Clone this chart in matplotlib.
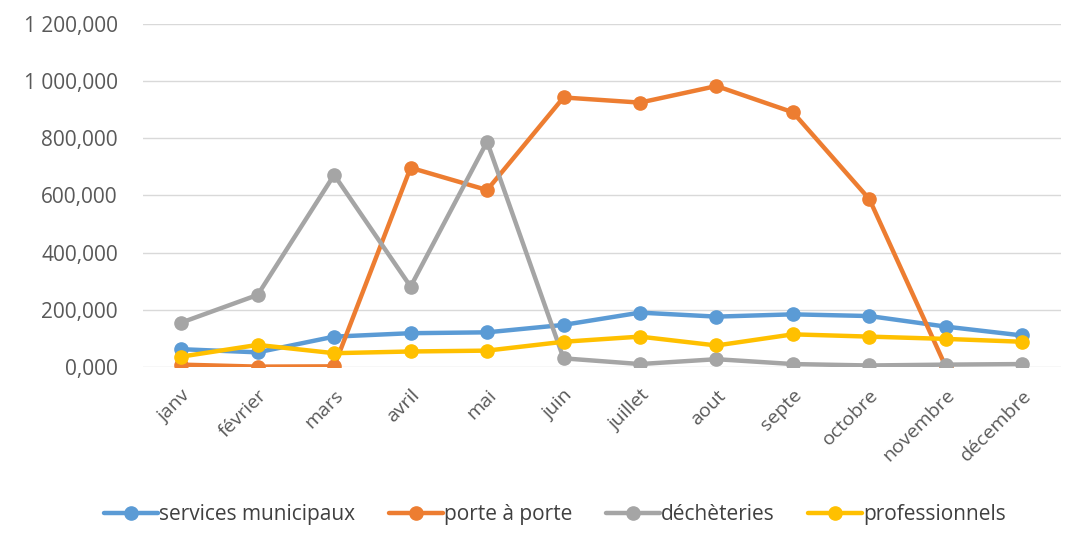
import matplotlib
matplotlib.use("Agg")
import matplotlib.pyplot as plt
import numpy as np
from matplotlib.ticker import FuncFormatter

months = ["janv", "février", "mars", "avril", "mai", "juin", "juillet", "aout",
          "septe", "octobre", "novembre", "décembre"]
services_municipaux = [62, 51, 106, 118, 121, 147, 190, 176, 184, 178, 141, 110]
porte_a_porte = [8, 1, 2, 697, 619, 943, 925, 983, 891, 587, 0, np.nan]
decheteries = [155, 252, 672, 281, 788, 30, 10, 27, 10, 5, 8, 10]
professionnels = [36, 77, 48, 54, 57, 88, 106, 75, 114, 106, 98, 88]

series = [
    ("services municipaux", services_municipaux, "#5B9BD5"),
    ("porte à porte", porte_a_porte, "#ED7D31"),
    ("déchèteries", decheteries, "#A5A5A5"),
    ("professionnels", professionnels, "#FFC000"),
]

plt.rcParams['font.family'] = ['Open Sans', 'DejaVu Sans']

fig = plt.figure(figsize=(10.8, 5.46), dpi=100)
ax = fig.add_axes([0.1324, 0.328, 0.982 - 0.1324, 0.956 - 0.328])

x = np.arange(len(months))
for name, vals, col in series:
    ax.plot(x, vals, color=col, lw=3.2, marker='o', markersize=9.5, label=name,
            solid_capstyle='round')

ax.set_xlim(-0.5, len(months) - 0.5)
ax.set_ylim(0, 1200)
ax.set_yticks(np.arange(0, 1201, 200))

def fmt(v, pos):
    s = f"{v:,.3f}"
    return s.replace(",", " ").replace(".", ",")
ax.yaxis.set_major_formatter(FuncFormatter(fmt))

ax.set_xticks(x)
ax.set_xticklabels(months, rotation=45, ha='right', rotation_mode='anchor')
ax.tick_params(axis='x', length=0, pad=14, labelsize=14, labelcolor='#595959')
ax.tick_params(axis='y', length=0, pad=18, labelsize=15, labelcolor='#595959')

ax.grid(axis='y', color='#D9D9D9', lw=1)
ax.set_axisbelow(True)
for s in ax.spines.values():
    s.set_visible(False)

leg = fig.legend(loc='center', bbox_to_anchor=(0.514, 0.057), ncol=4, frameon=False,
                 fontsize=15, handlelength=2.6, columnspacing=1.6, handletextpad=0.05)
for t in leg.get_texts():
    t.set_color('#404040')

fig.savefig("out.png", dpi=100)
